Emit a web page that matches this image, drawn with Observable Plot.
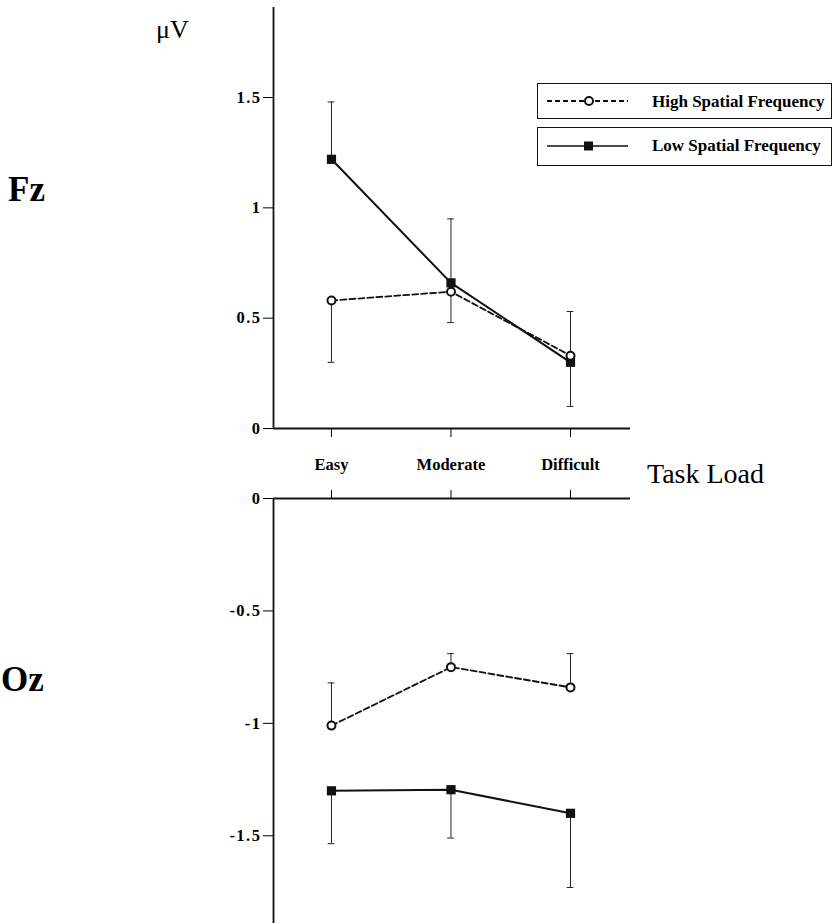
<!DOCTYPE html>
<html>
<head>
<meta charset="utf-8">
<script src="https://cdn.jsdelivr.net/npm/d3@7"></script>
<script src="https://cdn.jsdelivr.net/npm/@observablehq/plot@0.6"></script>
<style>
  body { margin: 0; background: #fff; width: 840px; height: 923px; position: relative; overflow: hidden; font-family: "Liberation Serif", "DejaVu Serif", serif; color: #000; }
  .abs { position: absolute; line-height: 1; white-space: nowrap; }
  .lbl { font-family: "Liberation Serif", serif; }
  .legbox { position: absolute; border: 1.5px solid #111; box-sizing: border-box; left: 537px; width: 295px; }
  .legbox svg { position: absolute; left: 0; top: 0; }
  .legbox span { position: absolute; left: 114px; font-weight: bold; font-size: 17px; line-height: 1; white-space: nowrap; }
  svg [aria-label^="y-axis"] text { letter-spacing: 1.5px; }
</style>
</head>
<body>
<div id="top" class="abs" style="left:0;top:0"></div>
<div id="bottom" class="abs" style="left:0;top:480px"></div>

<div class="abs lbl" style="left:156px;top:17px;font-size:26px;">μV</div>
<div class="abs lbl" style="left:8px;top:172px;font-size:35px;font-weight:bold;">Fz</div>
<div class="abs lbl" style="left:1px;top:662px;font-size:35px;font-weight:bold;">Oz</div>
<div class="abs lbl" style="left:647px;top:460px;font-size:28px;">Task Load</div>

<div class="legbox" style="top:83px;height:36px;">
  <svg width="110" height="34"><line x1="9" y1="17" x2="90" y2="17" stroke="#111" stroke-width="2" stroke-dasharray="5,3"/><circle cx="51" cy="17" r="4" fill="#fff" stroke="#111" stroke-width="2"/></svg>
  <span style="top:9px;">High Spatial Frequency</span>
</div>
<div class="legbox" style="top:127px;height:39px;">
  <svg width="110" height="37"><line x1="9" y1="18" x2="90" y2="18" stroke="#111" stroke-width="1.5"/><rect x="46" y="13.5" width="9" height="9" fill="#111"/></svg>
  <span style="top:9px;">Low Spatial Frequency</span>
</div>

<script>
const categories = ["Easy", "Moderate", "Difficult"];
const seriesNames = ["High Spatial Frequency", "Low Spatial Frequency"];
// Fz
const fzHigh = [0.58, 0.62, 0.33];
const fzHighErr = [0.30, 0.48, 0.53];
const fzLow = [1.22, 0.66, 0.30];
const fzLowErr = [1.48, 0.95, 0.10];
// Oz
const ozHigh = [-1.01, -0.75, -0.84];
const ozHighErr = [-0.82, -0.69, -0.69];
const ozLow = [-1.30, -1.295, -1.40];
const ozLowErr = [-1.535, -1.51, -1.73];
const fzTicks = [0, 0.5, 1, 1.5];
const ozTicks = [0, -0.5, -1, -1.5];

function rows(vals, errs, series) {
  return vals.map((v, i) => ({ i, cat: categories[i], v, e: errs[i], series }));
}

const FONT = "Liberation Serif";
const CAP = 0.028;

function panel(high, highErr, low, lowErr, opts) {
  const hi = rows(high, highErr, seriesNames[0]);
  const lo = rows(low, lowErr, seriesNames[1]);
  const all = hi.concat(lo);
  return Plot.plot({
    width: 840,
    height: opts.height,
    marginLeft: 273,
    marginRight: 210,
    marginTop: opts.marginTop,
    marginBottom: opts.marginBottom,
    style: { fontFamily: FONT, fontSize: "16.5px", fontWeight: "bold", color: "#000", background: "transparent", overflow: "visible" },
    x: {
      type: "linear",
      domain: [-0.485, 2.502],
      ticks: [0, 1, 2],
      tickFormat: opts.xLabels ? (d => categories[d]) : (() => ""),
      tickSize: 9,
      tickPadding: opts.xLabels ? 21 : 3,
      axis: opts.xAxis,
      label: null
    },
    y: {
      domain: opts.yDomain,
      ticks: opts.yTicks,
      tickFormat: d => String(d),
      tickSize: 10,
      tickPadding: 2,
      label: null
    },
    marks: [
      Plot.ruleY([0], { stroke: "#111", strokeWidth: 1.8 }),
      Plot.ruleX([-0.485], { stroke: "#111", strokeWidth: 1.8 }),
      // error bars
      Plot.ruleX(all, { x: "i", y1: "v", y2: "e", stroke: "#222", strokeWidth: 1 }),
      Plot.ruleY(all, { y: "e", x1: d => d.i - CAP, x2: d => d.i + CAP, stroke: "#222", strokeWidth: 1 }),
      // lines
      Plot.line(hi, { x: "i", y: "v", stroke: "#111", strokeWidth: 1.8, strokeDasharray: "6,3" }),
      Plot.line(lo, { x: "i", y: "v", stroke: "#111", strokeWidth: 2 }),
      // markers
      Plot.dot(lo, { x: "i", y: "v", symbol: "square", r: 5.2, fill: "#111", stroke: "none" }),
      Plot.dot(hi, { x: "i", y: "v", r: 4, fill: "#fff", stroke: "#111", strokeWidth: 2 })
    ]
  });
}

const topPlot = panel(fzHigh, fzHighErr, fzLow, fzLowErr, {
  height: 480, marginTop: 7, marginBottom: 52,
  yDomain: [0, 1.908], yTicks: fzTicks, xAxis: "bottom", xLabels: true
});
document.getElementById("top").appendChild(topPlot);

const bottomPlot = panel(ozHigh, ozHighErr, ozLow, ozLowErr, {
  height: 443, marginTop: 18, marginBottom: 0,
  yDomain: [-1.89, 0], yTicks: ozTicks, xAxis: "top", xLabels: false
});
document.getElementById("bottom").appendChild(bottomPlot);
</script>
</body>
</html>
